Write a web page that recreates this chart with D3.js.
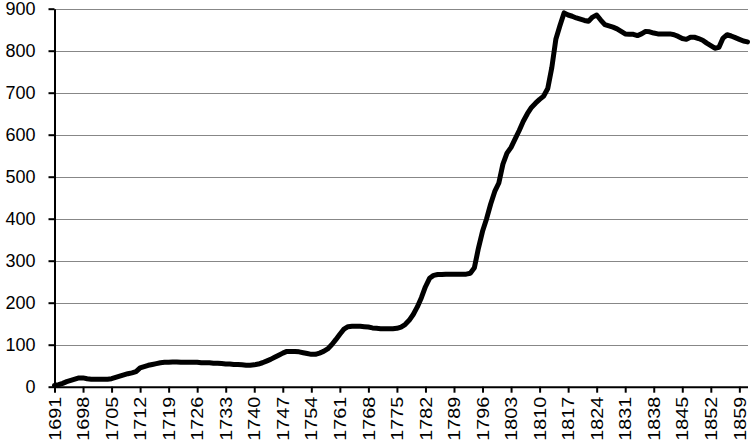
<!DOCTYPE html>
<html>
<head>
<meta charset="utf-8">
<script src="https://cdn.jsdelivr.net/npm/d3@7"></script>
<style>
  html, body { margin: 0; padding: 0; background: #fff; }
  svg { display: block; }
  text { font-family: "Liberation Sans", Arial, sans-serif; }
</style>
</head>
<body>
<svg id="chart" width="751" height="442"></svg>
<script>
const startYear = 1691;
const endYear = 1861;
const years = d3.range(startYear, endYear + 1);
const values = [
  3, 5, 8, 12, 15, 18, 21, 21, 19, 18,          // 1691-1700
  18, 18, 18, 18, 19, 22, 25, 28, 31, 33,       // 1701-1710
  36, 45, 48, 51, 53, 55, 57, 58, 58, 59,       // 1711-1720
  59, 58, 58, 58, 58, 58, 57, 57, 57, 56,       // 1721-1730
  56, 55, 54, 54, 53, 53, 52, 51, 51, 52,       // 1731-1740
  54, 57, 61, 65, 70, 75, 80, 84, 84, 84,       // 1741-1750
  83, 81, 79, 77, 77, 80, 84, 90, 100, 112,     // 1751-1760
  125, 137, 143, 144, 144, 144, 143, 142, 140, 139, // 1761-1770
  138, 138, 138, 138, 139, 142, 148, 158, 172, 190, // 1771-1780
  212, 238, 258, 265, 267, 267, 268, 268, 268, 268, // 1781-1790
  268, 268, 270, 283, 330, 370, 400, 435, 465, 485, // 1791-1800
  530, 556, 570, 590, 610, 632, 650, 665, 675, 684, // 1801-1810
  692, 710, 760, 828, 860, 890, 885, 882, 878, 875, // 1811-1820
  872, 870, 880, 885, 873, 862, 859, 856, 852, 846, // 1821-1830
  840, 839, 839, 836, 840, 846, 845, 842, 840, 840, // 1831-1840
  840, 840, 838, 834, 829, 827, 832, 832, 829, 825, // 1841-1850
  818, 812, 806, 808, 830, 838, 835, 831, 827, 823, // 1851-1860
  821                                              // 1861
];
const xTickLabels = ["1691","1698","1705","1712","1719","1726","1733","1740","1747","1754","1761","1768","1775","1782","1789","1796","1803","1810","1817","1824","1831","1838","1845","1852","1859"];
const yTickValues = [0, 100, 200, 300, 400, 500, 600, 700, 800, 900];

const svg = d3.select("#chart");

const x = d3.scalePoint().domain(years).range([54.5, 747.5]);
const y = d3.scaleLinear().domain([0, 900]).range([386.7, 8.7]);

// gridlines
svg.append("g")
  .selectAll("line")
  .data(yTickValues.filter(d => d !== 0))
  .join("line")
  .attr("x1", 54.5)
  .attr("x2", 748)
  .attr("y1", d => Math.round(y(d)) + 0.5)
  .attr("y2", d => Math.round(y(d)) + 0.5)
  .attr("stroke", "#878787")
  .attr("stroke-width", 1);

// y axis
const yAxis = svg.append("g")
  .attr("transform", "translate(54.5,0)")
  .call(d3.axisLeft(y).tickValues(yTickValues).tickSize(6).tickSizeOuter(0).tickPadding(13).tickFormat(d3.format("d")));
yAxis.select(".domain").attr("stroke", "#000").attr("stroke-width", 2);
yAxis.selectAll(".tick line").attr("stroke", "#000").attr("stroke-width", 2);
yAxis.selectAll(".tick text")
  .attr("fill", "#000")
  .style("font-size", "18px")
  .style("font-family", "'Liberation Sans', Arial, sans-serif");

// x axis
const xAxis = svg.append("g")
  .attr("transform", "translate(0," + y(0) + ")")
  .call(d3.axisBottom(x)
    .tickValues(xTickLabels.map(Number))
    .tickSize(6)
    .tickSizeOuter(0)
    .tickFormat(d => String(d)));
xAxis.select(".domain").attr("stroke", "#000").attr("stroke-width", 2);
xAxis.selectAll(".tick line").attr("stroke", "#000").attr("stroke-width", 2);
xAxis.selectAll(".tick text")
  .attr("x", 0)
  .attr("y", 0)
  .attr("dy", "0.35em")
  .attr("transform", "translate(0,10) rotate(-90) scale(1.1,0.9)")
  .attr("fill", "#000")
  .style("text-anchor", "end")
  .style("font-size", "18px")
  .style("font-family", "'Liberation Sans', Arial, sans-serif");

// line
const line = d3.line()
  .x((d, i) => x(years[i]))
  .y(d => y(d))
  .curve(d3.curveLinear);

svg.append("path")
  .datum(values)
  .attr("d", line)
  .attr("fill", "none")
  .attr("stroke", "#000")
  .attr("stroke-width", 5)
  .attr("stroke-linejoin", "round")
  .attr("stroke-linecap", "round");
</script>
</body>
</html>
